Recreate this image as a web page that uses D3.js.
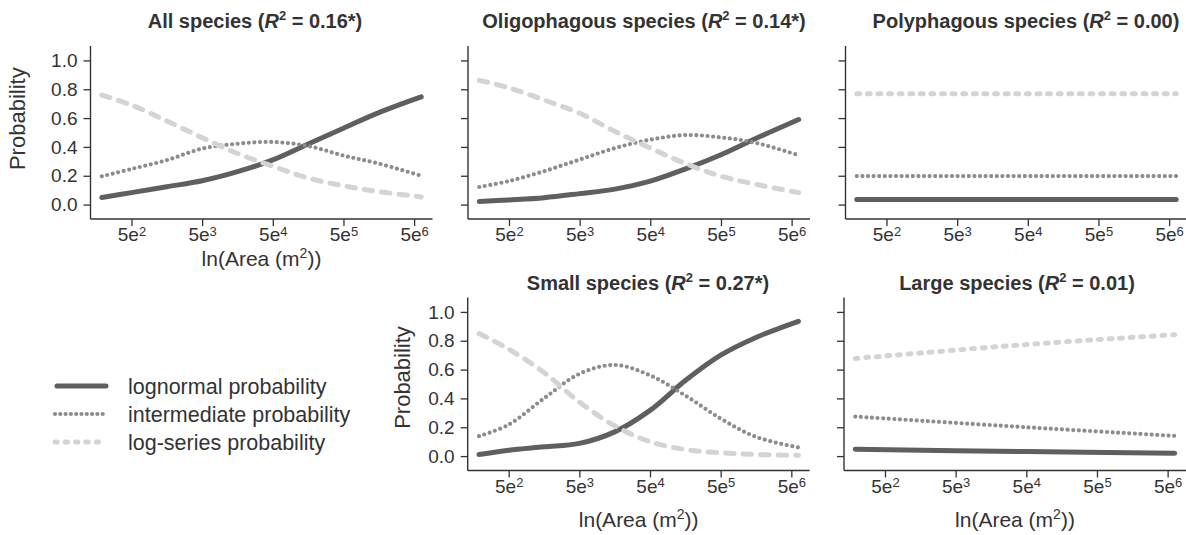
<!DOCTYPE html>
<html>
<head>
<meta charset="utf-8">
<script src="https://cdn.jsdelivr.net/npm/d3@7"></script>
<style>
  body { margin: 0; background: #fff; }
  text { font-family: "Liberation Sans", Arial, sans-serif; fill: #333; white-space: pre; }
</style>
</head>
<body>
<div id="chart"></div>
<script>
// axis ticks (x in exponent units: 5e2 ... 5e6)
const xTicks = [2, 3, 4, 5, 6];
const yTicks = [0, 0.2, 0.4, 0.6, 0.8, 1.0];

const xGrid = [1.58, 2, 2.5, 3, 3.5, 4, 4.5, 5, 5.5, 6.1];
const xFlat = [1.58, 6.1];
const xLarge = [1.58, 4, 6.1];

// All species
const allLognormal    = [0.049, 0.083, 0.124, 0.165, 0.228, 0.310, 0.420, 0.530, 0.638, 0.747];
const allIntermediate = [0.196, 0.247, 0.308, 0.388, 0.422, 0.434, 0.406, 0.340, 0.284, 0.200];
const allLogseries    = [0.760, 0.690, 0.580, 0.464, 0.354, 0.266, 0.184, 0.130, 0.090, 0.053];

// Oligophagous species
const oligoLognormal    = [0.021, 0.032, 0.048, 0.076, 0.107, 0.163, 0.248, 0.346, 0.460, 0.590];
const oligoIntermediate = [0.122, 0.163, 0.232, 0.312, 0.392, 0.450, 0.482, 0.466, 0.427, 0.342];
const oligoLogseries    = [0.862, 0.810, 0.725, 0.633, 0.507, 0.392, 0.284, 0.197, 0.140, 0.083];

// Polyphagous species
const polyLognormal    = [0.035, 0.035];
const polyIntermediate = [0.198, 0.198];
const polyLogseries    = [0.768, 0.768];

// Small species
const smallLognormal    = [0.011, 0.041, 0.064, 0.088, 0.168, 0.317, 0.524, 0.700, 0.823, 0.935];
const smallIntermediate = [0.138, 0.218, 0.400, 0.570, 0.632, 0.560, 0.420, 0.260, 0.133, 0.060];
const smallLogseries    = [0.850, 0.742, 0.580, 0.375, 0.210, 0.100, 0.046, 0.023, 0.011, 0.005];

// Large species
const largeLognormal    = [0.047, 0.031, 0.019];
const largeIntermediate = [0.274, 0.200, 0.140];
const largeLogseries    = [0.677, 0.774, 0.842];

const seriesNames = ['lognormal probability', 'intermediate probability', 'log-series probability'];

// layout
const W = 1186, H = 535;
const panelW = 342, panelH = 173;

const panels = [
  { name: 'All species', r2: '0.16*', xs: xGrid, ys: [allLognormal, allIntermediate, allLogseries],
    left: 90.5, top: 46, titleX: 255, titleY: 28, yLabels: true, yTitle: [25, 118.7], xTitleY: 47, dash: '8.5,9' },
  { name: 'Oligophagous species', r2: '0.14*', xs: xGrid, ys: [oligoLognormal, oligoIntermediate, oligoLogseries],
    left: 468, top: 46, titleX: 644, titleY: 28, yLabels: false, dash: '8.5,9' },
  { name: 'Polyphagous species', r2: '0.00', xs: xFlat, ys: [polyLognormal, polyIntermediate, polyLogseries],
    left: 845.5, top: 46, titleX: 1026, titleY: 28, yLabels: false, dash: '2.8,7.8' },
  { name: 'Small species', r2: '0.27*', xs: xGrid, ys: [smallLognormal, smallIntermediate, smallLogseries],
    left: 467.7, top: 297.5, titleX: 648, titleY: 290, yLabels: true, yTitle: [410, 377.5], xTitleY: 56, dash: '8.5,9' },
  { name: 'Large species', r2: '0.01', xs: xLarge, ys: [largeLognormal, largeIntermediate, largeLogseries],
    left: 844, top: 297.5, titleX: 1017, titleY: 290, yLabels: false, xTitleY: 56, dash: '2.8,7.8' }
];

const colors = ['#5f5f5f', '#8c8c8c', '#d4d4d4'];
const widths = [5, 4.2, 5];

const svg = d3.select('#chart')
  .append('svg')
  .attr('width', W)
  .attr('height', H)
  .attr('viewBox', [0, 0, W, H]);

svg.append('rect').attr('width', W).attr('height', H).attr('fill', '#fff');

const x = d3.scaleLinear().domain([1.42, 6.26]).range([0, panelW]);
const y = d3.scaleLinear().domain([-0.1, 1.1]).range([panelH, 0]);

const line = d3.line()
  .x(d => x(d[0]))
  .y(d => y(d[1]))
  .curve(d3.curveCatmullRom.alpha(0.5));

function dashFor(i, p) {
  if (i === 1) return '0,5.6';
  if (i === 2) return p.dash;
  return null;
}

panels.forEach(p => {
  const g = svg.append('g').attr('transform', `translate(${p.left},${p.top})`);

  // title with italic R and superscript 2
  const t = svg.append('text')
    .attr('x', p.titleX)
    .attr('y', p.titleY)
    .attr('text-anchor', 'middle')
    .style('font-size', '20px')
    .style('font-weight', 'bold');
  t.append('tspan').text(p.name + ' (');
  t.append('tspan').style('font-style', 'italic').text('R');
  t.append('tspan').attr('dy', -8).style('font-size', '13px').text('2');
  t.append('tspan').attr('dy', 8).text(' = ' + p.r2 + ')');

  // curves
  p.ys.forEach((vals, i) => {
    const pts = p.xs.map((xv, j) => [xv, vals[j]]);
    g.append('path')
      .attr('d', line(pts))
      .attr('fill', 'none')
      .attr('stroke', colors[i])
      .attr('stroke-width', widths[i])
      .attr('stroke-linecap', 'round')
      .attr('stroke-dasharray', dashFor(i, p));
  });

  // y axis
  const yAxis = g.append('g')
    .call(d3.axisLeft(y).tickValues(yTicks).tickSize(7).tickPadding(6)
      .tickFormat(p.yLabels ? d3.format('.1f') : () => ''));
  yAxis.select('.domain').attr('stroke', '#333').attr('stroke-width', 1.4)
    .attr('d', `M0,0V${panelH}`);
  yAxis.selectAll('.tick line').attr('stroke', '#333').attr('stroke-width', 1.3);
  yAxis.selectAll('.tick text').style('font-size', '19px').attr('fill', '#333');

  // x axis
  const xAxis = g.append('g')
    .attr('transform', `translate(0,${panelH})`)
    .call(d3.axisBottom(x).tickValues(xTicks).tickSize(7).tickPadding(2));
  xAxis.select('.domain').attr('stroke', '#333').attr('stroke-width', 1.4)
    .attr('d', `M0,0H${panelW}`);
  xAxis.selectAll('.tick line').attr('stroke', '#333').attr('stroke-width', 1.3);
  xAxis.selectAll('.tick text')
    .style('font-size', '19px')
    .attr('fill', '#333')
    .text(null)
    .each(function(d) {
      const el = d3.select(this);
      el.append('tspan').text('5e');
      el.append('tspan').attr('dy', '-0.45em').style('font-size', '13px').text(d);
    });

  // axis titles
  if (p.yTitle) {
    svg.append('text')
      .attr('transform', `translate(${p.yTitle[0]},${p.yTitle[1]}) rotate(-90)`)
      .attr('text-anchor', 'middle')
      .style('font-size', '22px')
      .text('Probability');
  }
  if (p.xTitleY) {
    const xt = svg.append('text')
      .attr('x', p.left + panelW / 2)
      .attr('y', p.top + panelH + p.xTitleY)
      .attr('text-anchor', 'middle')
      .style('font-size', '21px');
    xt.append('tspan').text('ln(Area (m');
    xt.append('tspan').attr('dy', -8).style('font-size', '14px').text('2');
    xt.append('tspan').attr('dy', 8).text('))');
  }
});

// legend
const legend = svg.append('g');
const legendY = [386, 414, 442];
seriesNames.forEach((name, i) => {
  legend.append('line')
    .attr('x1', i === 0 ? 57 : 55).attr('x2', 106)
    .attr('y1', legendY[i]).attr('y2', legendY[i])
    .attr('stroke', colors[i])
    .attr('stroke-width', widths[i])
    .attr('stroke-linecap', 'round')
    .attr('stroke-dasharray', i === 1 ? '0,5.3' : i === 2 ? '2.2,8.1' : null);
  legend.append('text')
    .attr('x', 128)
    .attr('y', legendY[i] + 7.5)
    .style('font-size', '21.5px')
    .text(name);
});
</script>
</body>
</html>
